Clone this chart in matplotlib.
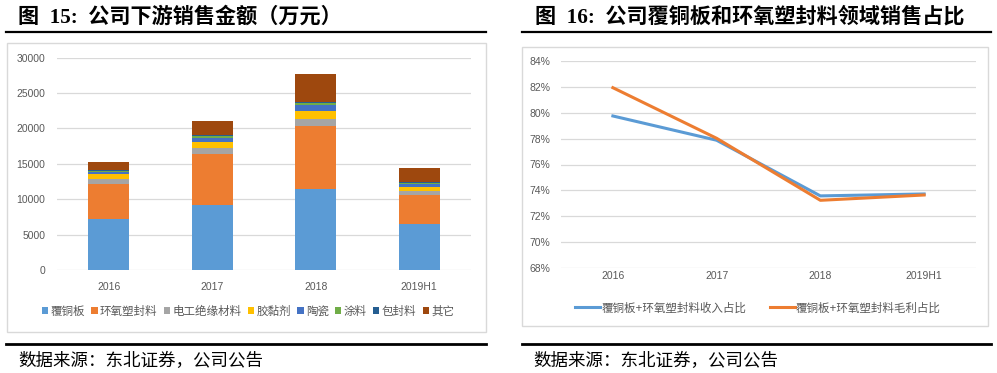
import matplotlib
matplotlib.use('Agg')
import matplotlib.pyplot as plt
from matplotlib.patches import Rectangle
from matplotlib.lines import Line2D
import numpy as np

plt.rcParams['font.family'] = ['Liberation Sans', 'Noto Sans CJK SC']

# 图15 数据（万元）
years = ['2016', '2017', '2018', '2019H1']
segments = ['覆铜板', '环氧塑封料', '电工绝缘材料', '胶黏剂', '陶瓷', '涂料', '包封料', '其它']
ccl = [7200, 9200, 11400, 6540]
emc = [4950, 7200, 8950, 4060]
insul = [750, 900, 940, 520]
adhesive = [700, 800, 1130, 610]
ceramic = [200, 600, 890, 370]
coating = [180, 200, 240, 190]
encap = [150, 180, 190, 140]
other = [1080, 1980, 3910, 1980]
seg_colors = ['#5B9BD5', '#ED7D31', '#A5A5A5', '#FFC000', '#4472C4', '#70AD47', '#255E91', '#9E480E']

# 图16 数据
revenue_share = [79.74, 77.87, 73.58, 73.73]
profit_share = [81.92, 78.02, 73.24, 73.65]
line_names = ['覆铜板+环氧塑封料收入占比', '覆铜板+环氧塑封料毛利占比']

W, H = 997, 373
fig = plt.figure(figsize=(W / 100, H / 100), dpi=100)


def fx(x):
    return x / W


def fy(y):
    return 1 - y / H


def axrect(x0, y0, x1, y1):
    return [fx(x0), fy(y1), fx(x1) - fx(x0), fy(y0) - fy(y1)]


tick_col = '#595959'
grid_col = '#D9D9D9'

# 外框、标题、分隔线
for (x0, y0, x1, y1) in [(7, 43, 485.5, 331.5), (522, 47, 988, 326)]:
    fig.patches.append(Rectangle((fx(x0), fy(y1)), fx(x1) - fx(x0), fy(y0) - fy(y1),
                                 transform=fig.transFigure, fill=False,
                                 edgecolor=grid_col, lw=1.0))
for (x0, x1) in [(6, 486), (522, 991)]:
    fig.lines.append(Line2D([fx(x0), fx(x1)], [fy(32.3), fy(32.3)], transform=fig.transFigure,
                            color='black', lw=1.6))
    fig.lines.append(Line2D([fx(x0), fx(x1)], [fy(344), fy(344)], transform=fig.transFigure,
                            color='black', lw=2.0))

title_font = ['Liberation Serif', 'Noto Sans CJK SC']
fig.text(fx(18), fy(17), '图  15:  公司下游销售金额（万元）', family=title_font,
         fontweight='bold', fontsize=15.2, va='center', ha='left')
fig.text(fx(535), fy(17), '图  16:  公司覆铜板和环氧塑封料领域销售占比', family=title_font,
         fontweight='bold', fontsize=15.2, va='center', ha='left')
fig.text(fx(18), fy(361.5), '数据来源：东北证券，公司公告', family='Noto Sans CJK SC',
         fontsize=12.6, va='center', ha='left')
fig.text(fx(533), fy(361.5), '数据来源：东北证券，公司公告', family='Noto Sans CJK SC',
         fontsize=12.6, va='center', ha='left')

# 左图：堆积柱状图
ax1 = fig.add_axes(axrect(57, 57.7, 471, 270))
x = np.arange(len(years))
stack = [ccl, emc, insul, adhesive, ceramic, coating, encap, other]
bottom = np.zeros(len(years))
for name, vals, col in zip(segments, stack, seg_colors):
    ax1.bar(x, vals, 0.4, bottom=bottom, color=col, label=name, zorder=3)
    bottom += np.array(vals)
ax1.set_xlim(-0.5, 3.5)
ax1.set_ylim(0, 30000)
ax1.set_yticks(np.arange(0, 30001, 5000))
ax1.set_xticks(x)
ax1.set_xticklabels(years)
ax1.grid(axis='y', color=grid_col, lw=0.9, zorder=0)
for s in ax1.spines.values():
    s.set_visible(False)
ax1.tick_params(length=0, colors=tick_col, labelsize=7.5)
ax1.tick_params(axis='y', pad=8.5)
ax1.tick_params(axis='x', pad=8.5)
ax1.legend(loc='center', bbox_to_anchor=(fx(248), fy(312)), bbox_transform=fig.transFigure,
           ncol=8, frameon=False, fontsize=8.3, handlelength=0.55, handleheight=0.55,
           handletextpad=0.2, columnspacing=0.55, labelcolor=tick_col, borderpad=0)

# 右图：折线图
ax2 = fig.add_axes(axrect(561, 60.7, 976, 268.3))
ax2.plot(x, revenue_share, color='#5B9BD5', lw=2.2, label=line_names[0], zorder=3)
ax2.plot(x, profit_share, color='#ED7D31', lw=2.2, label=line_names[1], zorder=3)
ax2.set_xlim(-0.5, 3.5)
ax2.set_ylim(68, 84)
ax2.set_yticks(np.arange(68, 84.1, 2))
ax2.set_yticklabels([f'{v}%' for v in range(68, 85, 2)])
ax2.set_xticks(x)
ax2.set_xticklabels(years)
ax2.grid(axis='y', color=grid_col, lw=0.9, zorder=0)
for s in ax2.spines.values():
    s.set_visible(False)
ax2.tick_params(length=0, colors=tick_col, labelsize=7.5)
ax2.tick_params(axis='y', pad=7.5)
ax2.tick_params(axis='x', pad=2)
ax2.legend(loc='center', bbox_to_anchor=(fx(758), fy(308.5)), bbox_transform=fig.transFigure,
           ncol=2, frameon=False, fontsize=8.3, handlelength=2.2, handletextpad=0.1,
           columnspacing=2.0, labelcolor=tick_col, borderpad=0)

fig.savefig('out.png', dpi=100)
